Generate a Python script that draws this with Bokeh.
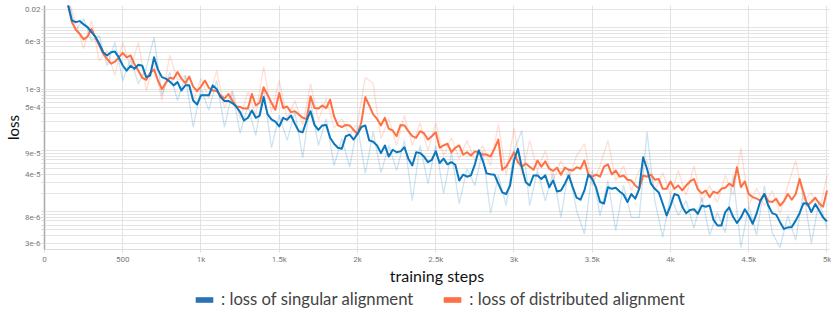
import math
from bokeh.plotting import figure
from bokeh.layouts import column
from bokeh.models import FixedTicker, Legend, LegendItem, Range1d
from bokeh.embed import file_html
from bokeh.resources import INLINE

# ---------------- data ----------------
smooth_steps = list(range(125, 5001, 25))
singular_smooth = [
    3.0e-2, 2.4e-2, 1.32e-2, 1.24e-2, 1.29e-2, 1.14e-2, 1.03e-2, 8.5e-3,
    7.2e-3, 5.5e-3, 4.0e-3, 3.54e-3, 4.0e-3, 4.1e-3, 3.3e-3, 2.43e-3,
    2.0e-3, 2.4e-3, 2.15e-3, 2.5e-3, 2.4e-3, 1.57e-3, 1.67e-3, 3.3e-3,
    2.08e-3, 1.57e-3, 1.48e-3, 1.33e-3, 1.15e-3, 1.30e-3, 9.5e-4, 1.15e-3,
    1.15e-3, 6.5e-4, 5.6e-4, 7.9e-4, 7.9e-4, 7.9e-4, 1.15e-3, 1.0e-3,
    7.4e-4, 6.4e-4, 6.4e-4, 5.9e-4, 5.2e-4, 4.2e-4, 3.07e-4, 3.4e-4,
    4.48e-4, 3.4e-4, 3.7e-4, 7.4e-4, 3.9e-4, 3.2e-4, 2.95e-4, 2.45e-4,
    3.4e-4, 3.15e-4, 3.7e-4, 2.7e-4, 2.05e-4, 1.97e-4, 3.07e-4, 4.35e-4,
    2.6e-4, 2.15e-4, 2.55e-4, 2.6e-4, 1.6e-4, 1.28e-4, 1.1e-4, 1.06e-4,
    1.7e-4, 1.8e-4, 1.5e-4, 1.85e-4, 2.4e-4, 2.55e-4, 1.45e-4, 1.38e-4,
    1.2e-4, 9.0e-5, 1.2e-4, 7.9e-5, 1.02e-4, 9.3e-5, 9.6e-5, 1.12e-4,
    7.3e-5, 5.65e-5, 9.3e-5, 9.0e-5, 7.9e-5, 6.4e-5, 7.0e-5, 9.6e-5,
    6.2e-5, 7.3e-5, 5.9e-5, 6.4e-5, 5.8e-5, 3.21e-5, 4.0e-5, 3.7e-5,
    3.9e-5, 5.9e-5, 1.0e-4, 6.8e-5, 4.2e-5, 4.05e-5, 4.0e-5, 2.85e-5,
    2.05e-5, 1.93e-5, 2.66e-5, 6.8e-5, 1.06e-4, 5.3e-5, 3.0e-5, 2.66e-5,
    3.88e-5, 3.88e-5, 3.4e-5, 3.9e-5, 2.5e-5, 3.21e-5, 2.12e-5, 2.21e-5,
    2.85e-5, 3.88e-5, 2.5e-5, 1.68e-5, 1.56e-5, 2.21e-5, 4.0e-5, 3.4e-5,
    2.45e-5, 1.43e-5, 1.35e-5, 2.5e-5, 2.35e-5, 2.45e-5, 2.12e-5, 1.9e-5,
    1.43e-5, 1.93e-5, 1.62e-5, 2.35e-5, 7.7e-5, 5.0e-5, 2.85e-5, 2.35e-5,
    2.05e-5, 1.35e-5, 8.6e-6, 1.25e-5, 1.93e-5, 1.83e-5, 1.2e-5, 9.4e-6,
    1.06e-5, 1.09e-5, 9.2e-6, 1.25e-5, 1.2e-5, 1.25e-5, 7.3e-6, 5.9e-6,
    5.9e-6, 9.8e-6, 1.17e-5, 8.2e-6, 6.5e-6, 8.0e-6, 1.09e-5, 8.6e-6,
    6.3e-6, 9.2e-6, 1.51e-5, 1.93e-5, 1.25e-5, 9.4e-6, 8.9e-6, 6.7e-6,
    5.2e-6, 5.5e-6, 5.6e-6, 7.1e-6, 9.4e-6, 1.37e-5, 1.35e-5, 9.8e-6,
    1.32e-5, 1.04e-5, 8.0e-6, 6.9e-6,
]
distributed_smooth = [
    3.0e-2, 2.4e-2, 1.24e-2, 9.3e-3, 8.0e-3, 6.5e-3, 7.2e-3, 9.6e-3,
    7.0e-3, 5.16e-3, 3.8e-3, 3.1e-3, 2.6e-3, 2.8e-3, 3.3e-3, 3.9e-3,
    3.3e-3, 3.54e-3, 2.55e-3, 2.0e-3, 1.53e-3, 1.42e-3, 1.83e-3, 2.08e-3,
    1.38e-3, 1.0e-3, 1.25e-3, 1.53e-3, 1.48e-3, 1.9e-3, 1.48e-3, 1.25e-3,
    1.6e-3, 1.1e-3, 9.3e-4, 1.1e-3, 1.38e-3, 1.05e-3, 9.5e-4, 9.3e-4,
    7.9e-4, 7.0e-4, 8.3e-4, 6.5e-4, 5.2e-4, 5.1e-4, 4.8e-4, 4.8e-4,
    8.3e-4, 5.4e-4, 6.0e-4, 1.07e-3, 8.1e-4, 6.0e-4, 4.6e-4, 8.6e-4,
    4.9e-4, 5.2e-4, 4.2e-4, 4.35e-4, 3.85e-4, 3.4e-4, 3.25e-4, 7.6e-4,
    4.9e-4, 4.8e-4, 5.4e-4, 4.9e-4, 6.7e-4, 3.6e-4, 2.55e-4, 2.4e-4,
    2.6e-4, 2.55e-4, 2.15e-4, 1.85e-4, 2.9e-4, 7.4e-4, 5.4e-4, 3.85e-4,
    3.25e-4, 2.55e-4, 3.4e-4, 2.25e-4, 2.11e-4, 1.7e-4, 2.6e-4, 2.55e-4,
    2.05e-4, 1.7e-4, 1.6e-4, 2.05e-4, 1.9e-4, 1.5e-4, 1.7e-4, 1.97e-4,
    1.1e-4, 1.2e-4, 1.28e-4, 9.3e-5, 1.1e-4, 1.2e-4, 8.5e-5, 9.3e-5,
    8.2e-5, 9.6e-5, 9.3e-5, 8.5e-5, 8.5e-5, 7.9e-5, 1.06e-4, 1.5e-4,
    4.8e-5, 5.4e-5, 7.0e-5, 9.3e-5, 6.4e-5, 5.4e-5, 6.1e-5, 5.4e-5,
    4.8e-5, 6.8e-5, 5.4e-5, 6.6e-5, 5.0e-5, 4.6e-5, 5.2e-5, 4.0e-5,
    5.2e-5, 4.8e-5, 4.68e-5, 5.3e-5, 5.0e-5, 6.8e-5, 4.05e-5, 3.7e-5,
    4.0e-5, 3.7e-5, 5.4e-5, 5.9e-5, 4.05e-5, 4.68e-5, 3.7e-5, 3.88e-5,
    3.3e-5, 3.21e-5, 2.66e-5, 2.35e-5, 3.88e-5, 3.7e-5, 4.0e-5, 3.3e-5,
    3.4e-5, 2.35e-5, 2.35e-5, 3.1e-5, 2.35e-5, 2.66e-5, 2.21e-5, 2.66e-5,
    3.1e-5, 3.4e-5, 2.3e-5, 1.98e-5, 2.21e-5, 1.72e-5, 2.12e-5, 1.98e-5,
    2.35e-5, 2.45e-5, 2.85e-5, 2.58e-5, 5.3e-5, 2.5e-5, 3.1e-5, 1.93e-5,
    1.72e-5, 1.62e-5, 1.51e-5, 1.93e-5, 1.47e-5, 1.43e-5, 1.62e-5, 1.25e-5,
    1.47e-5, 1.93e-5, 1.56e-5, 1.93e-5, 3.4e-5, 2.05e-5, 1.25e-5, 1.43e-5,
    1.68e-5, 1.35e-5, 1.2e-5, 2.21e-5,
]

raw_steps = list(range(100, 5001, 50))
singular_raw = [
    3.5e-2, 3.0e-2, 9.1e-3, 1.42e-2, 6.2e-3, 7.5e-3, 2.4e-3, 5.8e-3,
    1.38e-3, 3.1e-3, 1.23e-3, 2.2e-3, 7.0e-3, 7.9e-4, 1.87e-3, 6.5e-4,
    1.67e-3, 2.4e-4, 1.02e-3, 4.5e-4, 1.38e-3, 2.4e-4, 9.0e-4, 1.9e-4,
    5.4e-4, 1.75e-4, 1.02e-3, 1.1e-4, 3.7e-4, 1.45e-4, 4.2e-4, 7.6e-5,
    6.5e-4, 1.2e-4, 3.3e-4, 5.6e-5, 1.55e-4, 5.3e-5, 2.55e-4, 4.2e-5,
    2.0e-4, 4.3e-5, 1.2e-4, 4.7e-5, 1.45e-4, 1.5e-5, 1.2e-4, 2.85e-5,
    1.2e-4, 1.97e-5, 9.2e-5, 1.35e-5, 5.0e-5, 2.66e-5, 9.9e-5, 9.3e-6,
    3.9e-5, 1.25e-5, 9.9e-5, 2.1e-4, 1.25e-5, 4.7e-5, 1.5e-5, 4.3e-5,
    8.0e-6, 5.0e-5, 1.04e-5, 4.3e-6, 4.7e-5, 8.6e-6, 3.2e-5, 4.9e-6,
    2.66e-5, 8.0e-6, 8.0e-6, 2.0e-4, 1.5e-5, 3.8e-6, 1.83e-5, 8.6e-6,
    1.5e-5, 5.3e-6, 1.7e-5, 4.1e-6, 9.6e-6, 4.5e-6, 3.9e-5, 2.6e-6,
    1.25e-5, 4.1e-6, 2.66e-5, 4.5e-6, 2.6e-6, 8.6e-6, 3.4e-6, 2.2e-5,
    3.0e-6, 1.5e-5, 5.3e-6,
]
distributed_raw = [
    3.5e-2, 3.0e-2, 1.23e-2, 4.6e-3, 1.32e-2, 2.9e-3, 4.3e-3, 1.67e-3,
    5.8e-3, 2.2e-3, 5.8e-3, 9.5e-4, 2.7e-3, 6.5e-4, 3.6e-3, 1.38e-3,
    1.67e-3, 6.5e-4, 1.5e-3, 7.0e-4, 2.0e-3, 4.9e-4, 9.5e-4, 3.3e-4,
    9.0e-4, 3.7e-4, 2.3e-3, 4.2e-4, 1.38e-3, 3.3e-4, 6.5e-4, 2.55e-4,
    1.23e-3, 3.07e-4, 7.0e-4, 2.3e-4, 3.3e-4, 1.75e-4, 2.8e-4, 1.55e-3,
    1.23e-3, 1.55e-4, 3.3e-4, 1.2e-4, 3.7e-4, 1.2e-4, 2.8e-4, 9.9e-5,
    2.8e-4, 8.2e-5, 1.6e-4, 7.3e-5, 1.45e-4, 6.8e-5, 1.2e-4, 5.6e-5,
    2.7e-4, 3.9e-5, 2.3e-4, 3.9e-5, 1.45e-4, 4.7e-5, 9.9e-5, 3.2e-5,
    6.8e-5, 3.4e-5, 8.2e-5, 1.28e-4, 2.66e-5, 5.6e-5, 1.45e-4, 3.2e-5,
    5.6e-5, 2.2e-5, 4.7e-5, 6.8e-5, 2.2e-5, 4.3e-5, 1.83e-5, 4.7e-5,
    1.83e-5, 5.6e-5, 1.4e-5, 2.66e-5, 1.4e-5, 3.9e-5, 1.83e-5, 1.1e-4,
    1.25e-5, 2.4e-5, 1.25e-5, 2.2e-5, 9.3e-6, 2.66e-5, 6.8e-5, 1.5e-5,
    2.0e-5, 9.8e-6, 3.9e-5,
]

x_tick_values = [0, 500, 1000, 1500, 2000, 2500, 3000, 3500, 4000, 4500, 5000]
x_tick_labels = ["0", "500", "1k", "1.5k", "2k", "2.5k", "3k", "3.5k", "4k", "4.5k", "5k"]
y_tick_values = [0.02, 6e-3, 1e-3, 5e-4, 9e-5, 4e-5, 8e-6, 3e-6]
y_tick_labels = ["0.02", "6e-3", "1e-3", "5e-4", "9e-5", "4e-5", "8e-6", "3e-6"]
y_grid_values = [k * 10.0 ** e for e in range(-6, -1) for k in range(1, 10)] + [0.02]

series_names = [": loss of singular alignment", ": loss of distributed alignment"]

BLUE = "#0a76bb"
ORANGE = "#ff7043"
LEG_BLUE = "#2a72b3"
LEG_ORANGE = "#ff6e45"

# ---------------- main figure ----------------
p = figure(width=831, height=289, y_axis_type="log",
           x_range=Range1d(0, 5016), y_range=Range1d(2.396e-6, 0.0232),
           output_backend="svg", toolbar_location=None,
           min_border_left=44, min_border_right=2, min_border_top=5,
           min_border_bottom=40)
p.outline_line_color = None
p.background_fill_color = "white"
p.border_fill_color = "white"

# raw (faint) curves
p.line(raw_steps, distributed_raw, line_color=ORANGE, line_alpha=0.22, line_width=1.3)
p.line(raw_steps, singular_raw, line_color=BLUE, line_alpha=0.2, line_width=1.3)
# smoothed curves
p.line(smooth_steps, distributed_smooth, line_color=ORANGE, line_width=2, line_join="round")
p.line(smooth_steps, singular_smooth, line_color=BLUE, line_width=2, line_join="round")

# axes
xa = p.xaxis[0]
xa.ticker = FixedTicker(ticks=x_tick_values, minor_ticks=[])
xa.major_label_overrides = dict(zip(x_tick_values, x_tick_labels))
xa.axis_line_color = "#dcdcdc"
xa.major_tick_out = 3
xa.major_tick_in = 0
xa.major_tick_line_color = "#dcdcdc"
xa.major_label_standoff = 2
xa.major_label_text_font = "Roboto"
xa.major_label_text_font_size = "8px"
xa.major_label_text_color = "#7a7a7a"
xa.axis_label = "training steps"
xa.axis_label_text_font = "Lato"
xa.axis_label_text_font_size = "16px"
xa.axis_label_text_font_style = "normal"
xa.axis_label_text_color = "#111111"
xa.axis_label_standoff = -1

ya = p.yaxis[0]
ya.ticker = FixedTicker(ticks=y_tick_values, minor_ticks=y_grid_values)
ya.major_label_overrides = dict(zip(y_tick_values, y_tick_labels))
ya.axis_line_color = "#a8a8a8"
ya.axis_line_width = 1.5
ya.major_tick_out = 3
ya.major_tick_in = 0
ya.minor_tick_out = 3
ya.minor_tick_in = 0
ya.major_tick_line_color = "#d0d0d0"
ya.minor_tick_line_color = "#d8d8d8"
ya.major_label_standoff = 1
ya.major_label_text_font = "Roboto"
ya.major_label_text_font_size = "8px"
ya.major_label_text_color = "#7a7a7a"
ya.axis_label = "loss"
ya.axis_label_text_font = "Lato"
ya.axis_label_text_font_size = "15px"
ya.axis_label_text_font_style = "normal"
ya.axis_label_text_color = "#111111"
ya.axis_label_standoff = 0

p.xgrid.grid_line_color = "#e2e2e2"
p.ygrid.grid_line_color = "#e4e4e4"
p.ygrid.minor_grid_line_color = "#e4e4e4"

# ---------------- legend strip ----------------
lg = figure(width=831, height=20, x_range=Range1d(0, 1), y_range=Range1d(0, 1),
            output_backend="svg", toolbar_location=None,
            x_axis_location=None, y_axis_location=None, min_border=0)
lg.outline_line_color = None
lg.xgrid.visible = False
lg.ygrid.visible = False
qb = lg.quad(left=[0], right=[0], top=[0], bottom=[0], fill_color=LEG_BLUE,
             line_color=None, visible=False)
qo = lg.quad(left=[0], right=[0], top=[0], bottom=[0], fill_color=LEG_ORANGE,
             line_color=None, visible=False)
legend = Legend(items=[LegendItem(label=series_names[0], renderers=[qb]),
                       LegendItem(label=series_names[1], renderers=[qo])],
                orientation="horizontal", location=(149, 0),
                glyph_width=22, glyph_height=7, label_standoff=6, spacing=28,
                padding=0, margin=0, border_line_color=None, background_fill_alpha=0,
                label_text_font="Lato", label_text_font_size="16.7px", label_height=16)
lg.add_layout(legend, "center")

open("out.html", "w").write(file_html(column(p, lg, spacing=0), INLINE))
